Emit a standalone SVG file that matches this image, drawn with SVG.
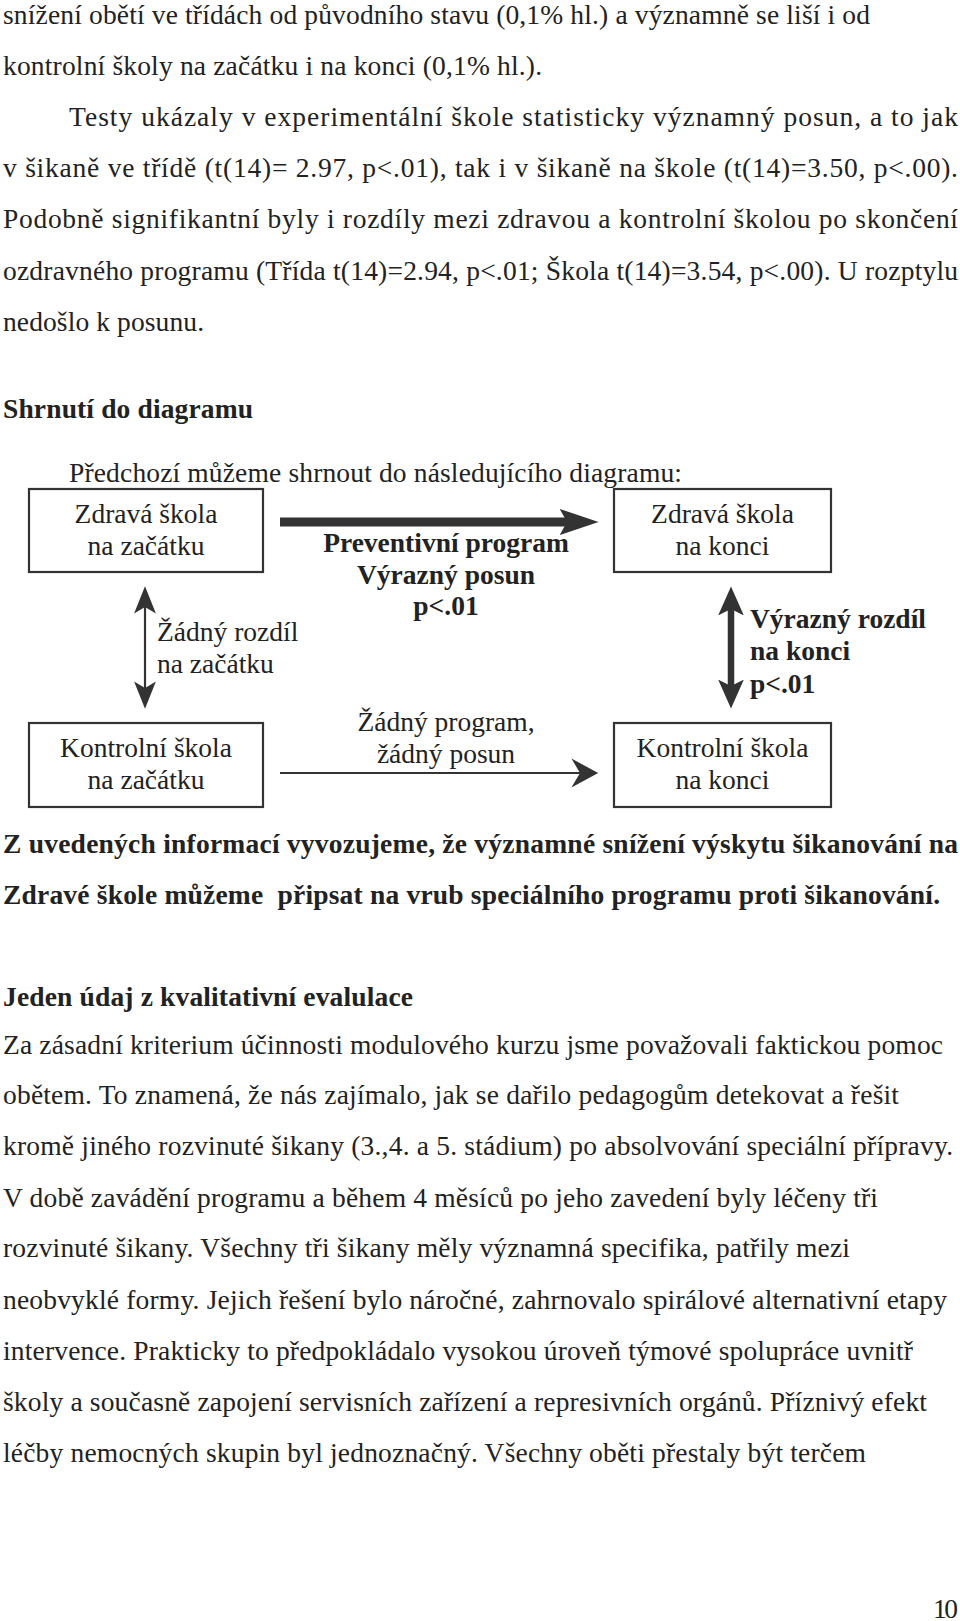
<svg xmlns="http://www.w3.org/2000/svg" width="960" height="1621" viewBox="0 0 960 1621">
<style>
text{font-family:"Liberation Serif","Times New Roman",serif;font-size:27.5px;fill:#222}
.b{font-weight:bold}
.c{text-anchor:middle}
.box{fill:#fff;stroke:#333;stroke-width:2.2}
.pre{white-space:pre}
</style>
<defs>
<marker id="hThick" markerUnits="userSpaceOnUse" markerWidth="40" markerHeight="30" viewBox="0 -13 38 26" refX="7" refY="0" orient="auto-start-reverse"><path d="M0,-12.5 L37,0 L0,12.5 L7,0 Z" fill="#333"/></marker>
<marker id="hThin" markerUnits="userSpaceOnUse" markerWidth="30" markerHeight="30" viewBox="0 -14 26 28" refX="8" refY="0" orient="auto-start-reverse"><path d="M0,-13.5 L25,0 L0,13.5 L8,0 Z" fill="#333"/></marker>
<marker id="hV1" markerUnits="userSpaceOnUse" markerWidth="30" markerHeight="24" viewBox="0 -11 26 22" refX="6" refY="0" orient="auto-start-reverse"><path d="M0,-10 L25,0 L0,10 L6,0 Z" fill="#333"/></marker>
<marker id="hV2" markerUnits="userSpaceOnUse" markerWidth="30" markerHeight="28" viewBox="0 -13 28 26" refX="6" refY="0" orient="auto-start-reverse"><path d="M0,-12 L27,0 L0,12 L6,0 Z" fill="#333"/></marker>
</defs>

<g id="body-top">
<text x="3" y="24" textLength="867">snížení obětí ve třídách od původního stavu (0,1% hl.) a významně se liší i od</text>
<text x="3" y="75" textLength="539">kontrolní školy na začátku i na konci (0,1% hl.).</text>
<text x="69" y="126" textLength="889">Testy ukázaly v experimentální škole statisticky významný posun, a to jak</text>
<text x="3" y="177" textLength="955">v šikaně ve třídě (t(14)= 2.97, p&lt;.01), tak i v šikaně na škole (t(14)=3.50, p&lt;.00).</text>
<text x="3" y="228" textLength="955">Podobně signifikantní byly i rozdíly mezi zdravou a kontrolní školou po skončení</text>
<text x="3" y="280" textLength="955">ozdravného programu (Třída t(14)=2.94, p&lt;.01; Škola t(14)=3.54, p&lt;.00). U rozptylu</text>
<text x="3" y="331" textLength="201">nedošlo k posunu.</text>
<text class="b" x="3" y="418" textLength="250">Shrnutí do diagramu</text>
<text x="69" y="482" textLength="613">Předchozí můžeme shrnout do následujícího diagramu:</text>
</g>

<g id="node-zdrava-zacatek">
<rect class="box" x="29" y="489" width="234" height="83"/>
<text class="c" x="146" y="523">Zdravá škola</text>
<text class="c" x="146" y="555">na začátku</text>
</g>
<g id="node-zdrava-konec">
<rect class="box" x="614" y="489" width="217" height="83"/>
<text class="c" x="722.5" y="523">Zdravá škola</text>
<text class="c" x="722.5" y="555">na konci</text>
</g>
<g id="node-kontrolni-zacatek">
<rect class="box" x="29" y="723" width="234" height="84"/>
<text class="c" x="146" y="757">Kontrolní škola</text>
<text class="c" x="146" y="789">na začátku</text>
</g>
<g id="node-kontrolni-konec">
<rect class="box" x="614" y="723" width="217" height="84"/>
<text class="c" x="722.5" y="757">Kontrolní škola</text>
<text class="c" x="722.5" y="789">na konci</text>
</g>

<g id="connectors">
<line x1="280" y1="522" x2="567" y2="522" stroke="#333" stroke-width="9" marker-end="url(#hThick)"/>
<line x1="280" y1="773" x2="580" y2="773" stroke="#333" stroke-width="2.2" marker-end="url(#hThin)"/>
<line x1="145" y1="607" x2="145" y2="688" stroke="#333" stroke-width="2.2" marker-start="url(#hV1)" marker-end="url(#hV1)"/>
<line x1="731" y1="609" x2="731" y2="686" stroke="#333" stroke-width="6.5" marker-start="url(#hV2)" marker-end="url(#hV2)"/>
</g>

<g id="labels">
<text class="b c" x="446" y="552">Preventivní program</text>
<text class="b c" x="446" y="584">Výrazný posun</text>
<text class="b c" x="446" y="615">p&lt;.01</text>
<text x="157" y="641">Žádný rozdíl</text>
<text x="157" y="673">na začátku</text>
<text class="b" x="750" y="628">Výrazný rozdíl</text>
<text class="b" x="750" y="660">na konci</text>
<text class="b" x="750" y="693">p&lt;.01</text>
<text class="c" x="446" y="731">Žádný program,</text>
<text class="c" x="446" y="763">žádný posun</text>
</g>

<g id="body-bottom">
<text class="b" x="3" y="853" textLength="955">Z uvedených informací vyvozujeme, že významné snížení výskytu šikanování na</text>
<text class="b pre" x="3" y="904" textLength="937">Zdravé škole můžeme  připsat na vrub speciálního programu proti šikanování.</text>
<text class="b" x="3" y="1006" textLength="410">Jeden údaj z kvalitativní evalulace</text>
<text x="3" y="1054" textLength="940">Za zásadní kriterium účinnosti modulového kurzu jsme považovali faktickou pomoc</text>
<text x="3" y="1104" textLength="896">obětem. To znamená, že nás zajímalo, jak se dařilo pedagogům detekovat a řešit</text>
<text x="3" y="1155" textLength="950">kromě jiného rozvinuté šikany (3.,4. a 5. stádium) po absolvování speciální přípravy.</text>
<text x="3" y="1207" textLength="875">V době zavádění programu a během 4 měsíců po jeho zavedení byly léčeny tři</text>
<text x="3" y="1257" textLength="847">rozvinuté šikany. Všechny tři šikany měly významná specifika, patřily mezi</text>
<text x="3" y="1309" textLength="944">neobvyklé formy. Jejich řešení bylo náročné, zahrnovalo spirálové alternativní etapy</text>
<text x="3" y="1360" textLength="910">intervence. Prakticky to předpokládalo vysokou úroveň týmové spolupráce uvnitř</text>
<text x="3" y="1411" textLength="924">školy a současně zapojení servisních zařízení a represivních orgánů. Příznivý efekt</text>
<text x="3" y="1462" textLength="863">léčby nemocných skupin byl jednoznačný. Všechny oběti přestaly být terčem</text>
<text x="933" y="1618" textLength="25">10</text>
</g>
</svg>
